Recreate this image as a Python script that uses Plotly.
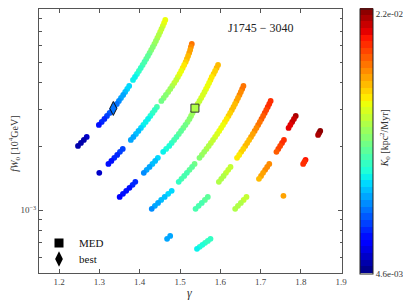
import numpy as np
import plotly.graph_objects as go

# ---- data (gamma, fW0 in 1e-3 x 10^4 GeV, K0 in 1e-3 kpc^2/Myr) ----
gamma_c1 = [1.4634, 1.4604, 1.4573, 1.4540, 1.4507, 1.4473, 1.4437, 1.4401, 1.4364, 1.4325, 1.4285,
            1.4245, 1.4203, 1.4161, 1.4117, 1.4072, 1.4026, 1.3979, 1.3932, 1.3882, 1.3833,
            1.3738, 1.3689, 1.3639, 1.3589, 1.3535, 1.3483, 1.3431, 1.3373, 1.3314, 1.3252, 1.3187,
            1.3123, 1.3056, 1.2986,
            1.2684, 1.2613, 1.2541, 1.2468]
fw0_c1 = [7.900, 7.647, 7.402, 7.164, 6.935, 6.712, 6.497, 6.289, 6.087, 5.892, 5.703,
          5.520, 5.343, 5.172, 5.006, 4.846, 4.690, 4.540, 4.394, 4.253, 4.117,
          3.857, 3.734, 3.614, 3.498, 3.386, 3.277, 3.172, 3.071, 2.972, 2.877, 2.785,
          2.695, 2.609, 2.525,
          2.217, 2.146, 2.077, 2.010]
k0_c1 = [15.7, 15.5, 15.2, 15.0, 14.8, 14.5, 14.3, 14.0, 13.8, 13.5, 13.3,
         13.1, 12.8, 12.6, 12.3, 12.1, 11.8, 11.6, 11.4, 11.1, 10.9,
         10.5, 10.3, 10.0, 9.7, 9.4, 9.2, 8.9, 8.6, 8.4, 8.1, 7.8,
         7.6, 7.3, 7.0,
         5.5, 5.4, 5.3, 5.2]

gamma_c2 = [1.5292, 1.5269, 1.5252, 1.5227, 1.5200, 1.5170, 1.5140, 1.5103, 1.5066, 1.5029, 1.4989,
            1.4947, 1.4905, 1.4857, 1.4808, 1.4758, 1.4706, 1.4649, 1.4594, 1.4537,
            1.4426, 1.4372, 1.4318, 1.4263, 1.4206, 1.4148, 1.4089, 1.4030, 1.3968, 1.3906, 1.3843, 1.3779,
            1.3578, 1.3509, 1.3440, 1.3368, 1.3296, 1.3223,
            1.2996]
fw0_c2 = [6.087, 5.892, 5.703, 5.520, 5.343, 5.172, 5.006, 4.846, 4.690, 4.540, 4.394,
          4.253, 4.117, 3.985, 3.857, 3.734, 3.614, 3.498, 3.386, 3.277,
          3.071, 2.972, 2.877, 2.785, 2.695, 2.609, 2.525, 2.444, 2.366, 2.290, 2.217, 2.146,
          1.946, 1.884, 1.823, 1.765, 1.708, 1.653,
          1.500]
k0_c2 = [18.2, 17.9, 17.6, 17.4, 17.1, 16.8, 16.6, 16.3, 16.0, 15.7, 15.5,
         15.2, 14.9, 14.7, 14.4, 14.1, 13.9, 13.6, 13.3, 13.0,
         12.1, 11.8, 11.6, 11.4, 11.1, 10.9, 10.7, 10.4, 10.2, 9.9, 9.7, 9.5,
         7.9, 7.7, 7.5, 7.3, 7.1, 6.9,
         5.8]

gamma_c3 = [1.5944, 1.5907, 1.5870, 1.5832, 1.5788, 1.5756, 1.5721, 1.5684, 1.5646, 1.5607,
            1.5567, 1.5525, 1.5483, 1.5438, 1.5393, 1.5349, 1.5311, 1.5274, 1.5235, 1.5187,
            1.5135, 1.5081, 1.5026, 1.4970, 1.4912, 1.4853, 1.4793, 1.4732, 1.4656, 1.4582,
            1.4450, 1.4383, 1.4314, 1.4244, 1.4172, 1.4101,
            1.3890, 1.3823, 1.3745, 1.3665, 1.3584, 1.3502]
fw0_c3 = [4.846, 4.690, 4.540, 4.394, 4.253, 4.117, 3.985, 3.857, 3.734, 3.614,
          3.498, 3.386, 3.277, 3.172, 3.071, 2.972, 2.877, 2.785, 2.695, 2.609,
          2.525, 2.444, 2.366, 2.290, 2.217, 2.146, 2.077, 2.010, 1.946, 1.884,
          1.765, 1.708, 1.653, 1.600, 1.549, 1.500,
          1.360, 1.316, 1.274, 1.233, 1.194, 1.155]
k0_c3 = [17.0, 16.8, 16.6, 16.5, 16.3, 16.1, 15.9, 15.8, 15.6, 15.4,
         15.3, 15.1, 14.9, 14.7, 14.6, 14.4, 14.1, 13.9, 13.7, 13.4,
         13.2, 12.9, 12.7, 12.5, 12.2, 12.0, 11.8, 11.5, 11.3, 11.0,
         10.3, 10.1, 9.9, 9.7, 9.5, 9.3,
         7.6, 7.4, 7.2, 7.0, 6.9, 6.7]

gamma_c4 = [1.6574, 1.6542, 1.6509, 1.6475, 1.6439, 1.6402, 1.6365, 1.6326, 1.6286, 1.6244,
            1.6202, 1.6158, 1.6113, 1.6067, 1.6020, 1.5972, 1.5922, 1.5871, 1.5819, 1.5766,
            1.5712, 1.5656, 1.5600, 1.5542, 1.5483,
            1.5361, 1.5299, 1.5235, 1.5170, 1.5104, 1.5036, 1.4968,
            1.4793, 1.4706, 1.4619, 1.4532, 1.4455, 1.4377, 1.4298]
fw0_c4 = [3.857, 3.734, 3.614, 3.498, 3.386, 3.277, 3.172, 3.071, 2.972, 2.877,
          2.785, 2.695, 2.609, 2.525, 2.444, 2.366, 2.290, 2.217, 2.146, 2.077,
          2.010, 1.946, 1.884, 1.823, 1.765,
          1.653, 1.600, 1.549, 1.500, 1.451, 1.405, 1.360,
          1.233, 1.194, 1.155, 1.118, 1.082, 1.048, 1.014]
k0_c4 = [18.4, 18.2, 18.0, 17.8, 17.6, 17.4, 17.2, 17.0, 16.9, 16.7,
         16.5, 16.3, 16.1, 15.9, 15.7, 15.5, 15.3, 15.1, 14.9, 14.7,
         14.5, 14.3, 14.1, 13.9, 13.7,
         13.0, 12.8, 12.6, 12.4, 12.3, 12.1, 11.9,
         10.5, 10.3, 10.1, 9.9, 9.7, 9.5, 9.3]

gamma_c5 = [1.7249, 1.7214, 1.7177, 1.7140, 1.7102, 1.7062, 1.7022, 1.6981, 1.6939, 1.6896,
            1.6852, 1.6807, 1.6762, 1.6715, 1.6667, 1.6619, 1.6569, 1.6519, 1.6468, 1.6415,
            1.6253, 1.6197, 1.6140, 1.6082, 1.6024, 1.5964,
            1.5689, 1.5617, 1.5540, 1.5463, 1.5386,
            1.4756, 1.4679]
fw0_c5 = [3.277, 3.172, 3.071, 2.972, 2.877, 2.785, 2.695, 2.609, 2.525, 2.444,
          2.366, 2.290, 2.217, 2.146, 2.077, 2.010, 1.946, 1.884, 1.823, 1.765,
          1.600, 1.549, 1.500, 1.451, 1.405, 1.360,
          1.155, 1.118, 1.082, 1.048, 1.014,
          0.756, 0.732]
k0_c5 = [19.7, 19.6, 19.4, 19.2, 19.0, 18.8, 18.6, 18.4, 18.2, 18.0,
         17.8, 17.6, 17.4, 17.2, 17.0, 16.9, 16.7, 16.5, 16.3, 16.1,
         15.0, 14.9, 14.7, 14.5, 14.3, 14.2,
         12.8, 12.6, 12.4, 12.3, 12.1,
         9.7, 9.5]

gamma_c6 = [1.7872, 1.7828, 1.7783, 1.7738, 1.7694,
            1.7579, 1.7532, 1.7485, 1.7438, 1.7393,
            1.7215, 1.7163, 1.7113, 1.7061, 1.7011, 1.6959,
            1.6649, 1.6579, 1.6510, 1.6438, 1.6369,
            1.5756, 1.5689, 1.5622, 1.5555, 1.5488, 1.5421]
fw0_c6 = [2.785, 2.695, 2.609, 2.525, 2.444,
          2.146, 2.077, 2.010, 1.946, 1.884,
          1.653, 1.600, 1.549, 1.500, 1.451, 1.405,
          1.155, 1.118, 1.082, 1.048, 1.014,
          0.732, 0.716, 0.701, 0.686, 0.671, 0.657]
k0_c6 = [21.3, 21.0, 20.8, 20.4, 20.3,
         19.6, 19.4, 19.2, 19.0, 18.9,
         18.0, 17.8, 17.7, 17.5, 17.3, 17.1,
         14.9, 14.7, 14.5, 14.3, 14.2,
         11.9, 11.7, 11.6, 11.4, 11.2, 11.0]

gamma_c7 = [1.8480, 1.8453, 1.8426, 1.8115, 1.8086, 1.8056, 1.7567]
fw0_c7 = [2.366, 2.315, 2.265, 1.727, 1.690, 1.653, 1.168]
k0_c7 = [21.7, 21.6, 21.4, 19.9, 19.8, 19.7, 17.6]

gamma_med, fw0_med, k0_med = 1.537, 3.03, 14.5
gamma_best, fw0_best, k0_best = 1.3344, 3.02, 8.65

K0_MIN, K0_MAX = 4.6e-3, 2.2e-2
cbar_labels = ["4.6e-03", "2.2e-02"]
x_ticks = [1.2, 1.3, 1.4, 1.5, 1.6, 1.7, 1.8, 1.9]
pulsar_name = "J1745 − 3040"

curves = [(gamma_c1, fw0_c1, k0_c1), (gamma_c2, fw0_c2, k0_c2), (gamma_c3, fw0_c3, k0_c3),
          (gamma_c4, fw0_c4, k0_c4), (gamma_c5, fw0_c5, k0_c5), (gamma_c6, fw0_c6, k0_c6),
          (gamma_c7, fw0_c7, k0_c7)]


# ---- stepped matplotlib-like jet ----
def jet(v):
    r = np.interp(v, [0, 0.35, 0.66, 0.89, 1], [0, 0, 1, 1, 0.5])
    g = np.interp(v, [0, 0.125, 0.375, 0.64, 0.91, 1], [0, 0, 1, 1, 0, 0])
    b = np.interp(v, [0, 0.11, 0.34, 0.65, 1], [0.5, 1, 1, 0, 0])
    return "rgb(%d,%d,%d)" % (round(r * 255), round(g * 255), round(b * 255))


N = 40
colorscale = []
for i in range(N):
    c = jet((i + 0.5) / N)
    colorscale.append([i / N, c])
    colorscale.append([(i + 1) / N, c])

FONT = "Liberation Serif"
fig = go.Figure()
for g, w, k in curves:
    fig.add_trace(go.Scatter(
        x=g, y=[v * 1e-3 for v in w], mode="markers",
        marker=dict(size=5.8, color=[v * 1e-3 for v in k], coloraxis="coloraxis", line=dict(width=0)),
        showlegend=False, hoverinfo="skip"))

fig.add_trace(go.Scatter(
    x=[gamma_med], y=[fw0_med * 1e-3], mode="markers", showlegend=False,
    marker=dict(symbol="square", size=8, color=[k0_med * 1e-3], coloraxis="coloraxis",
                line=dict(color="#333", width=1))))
fig.add_trace(go.Scatter(
    x=[gamma_best], y=[fw0_best * 1e-3], mode="markers", showlegend=False,
    marker=dict(symbol="diamond-tall", size=10, color=[k0_best * 1e-3], coloraxis="coloraxis",
                line=dict(color="#111", width=1))))

# legend entries (two single-item legends for tight spacing)
fig.add_trace(go.Scatter(x=[None], y=[None], mode="markers", name="MED", legend="legend",
                         marker=dict(symbol="square", size=9, color="black")))
fig.add_trace(go.Scatter(x=[None], y=[None], mode="markers", name="best", legend="legend2",
                         marker=dict(symbol="diamond-tall", size=11, color="black")))

minor_y = [6e-4, 7e-4, 8e-4, 9e-4, 2e-3, 3e-3, 4e-3, 5e-3, 6e-3, 7e-3, 8e-3]
leg_font = dict(size=11, family=FONT, color="#111")

fig.update_layout(
    width=403, height=295,
    margin=dict(l=31, r=69, t=1, b=30),
    paper_bgcolor="white", plot_bgcolor="white",
    font=dict(family=FONT, color="#333"),
    xaxis=dict(range=[1.15, 1.902], tickvals=x_ticks, ticktext=[f"{t:.1f}" for t in x_ticks],
               ticks="inside", ticklen=4, tickcolor="#555", showline=True, linecolor="#555",
               linewidth=1, mirror="ticks", showgrid=False, zeroline=False,
               tickfont=dict(size=9, color="#444")),
    yaxis=dict(type="log", range=[np.log10(5.05e-4), np.log10(8.9e-3)],
               tickvals=[1e-3], ticktext=["10<sup>−3</sup>"],
               ticks="inside", ticklen=4, tickcolor="#555", showline=True, linecolor="#555",
               linewidth=1, mirror="ticks", showgrid=False, zeroline=False,
               tickfont=dict(size=9, color="#444"),
               minor=dict(tickvals=minor_y, ticks="inside", ticklen=2.5, tickcolor="#555",
                          showgrid=False)),
    coloraxis=dict(
        colorscale=colorscale, cmin=K0_MIN, cmax=K0_MAX,
        colorbar=dict(thickness=13, lenmode="pixels", len=265, y=0.5, yanchor="middle",
                      x=(360 - 39) / 303, xanchor="left", xpad=0, ypad=0,
                      outlinewidth=1, outlinecolor="#222",
                      tickvals=[K0_MIN * 1.001, 0.02165], ticktext=cbar_labels,
                      ticklabeloverflow="allow",
                      ticks="", tickfont=dict(size=9, color="#333", family=FONT))),
    legend=dict(x=0.0, y=0.1136, xanchor="left", yanchor="middle", bgcolor="rgba(0,0,0,0)",
                font=leg_font),
    legend2=dict(x=0.0, y=0.053, xanchor="left", yanchor="middle", bgcolor="rgba(0,0,0,0)",
                 font=leg_font),
    annotations=[
        dict(text=pulsar_name, xref="x", yref="y", x=1.7009, y=np.log10(7.27e-3),
             xanchor="center", yanchor="middle",
             showarrow=False, font=dict(size=12, family=FONT, color="#222")),
        dict(text="<i>γ</i>", xref="paper", yref="paper", x=0.498, y=-0.076,
             xanchor="center", yanchor="middle", showarrow=False,
             font=dict(size=12, family=FONT, color="#333")),
        dict(text="<i>fW</i><sub>0</sub> [10<sup>4</sup>GeV]", xref="paper", yref="paper",
             x=-0.0825, y=0.49, xanchor="center", yanchor="middle", textangle=-90, showarrow=False,
             font=dict(size=10, family=FONT, color="#333")),
        dict(text="<i>K</i><sub>0</sub> [kpc<sup>2</sup>/Myr]", xref="paper", yref="paper",
             x=(385 - 39) / 303, y=0.51, xanchor="center", yanchor="middle", textangle=-90,
             showarrow=False, font=dict(size=10, family=FONT, color="#333")),
    ],
)

fig.write_html("out.html")
